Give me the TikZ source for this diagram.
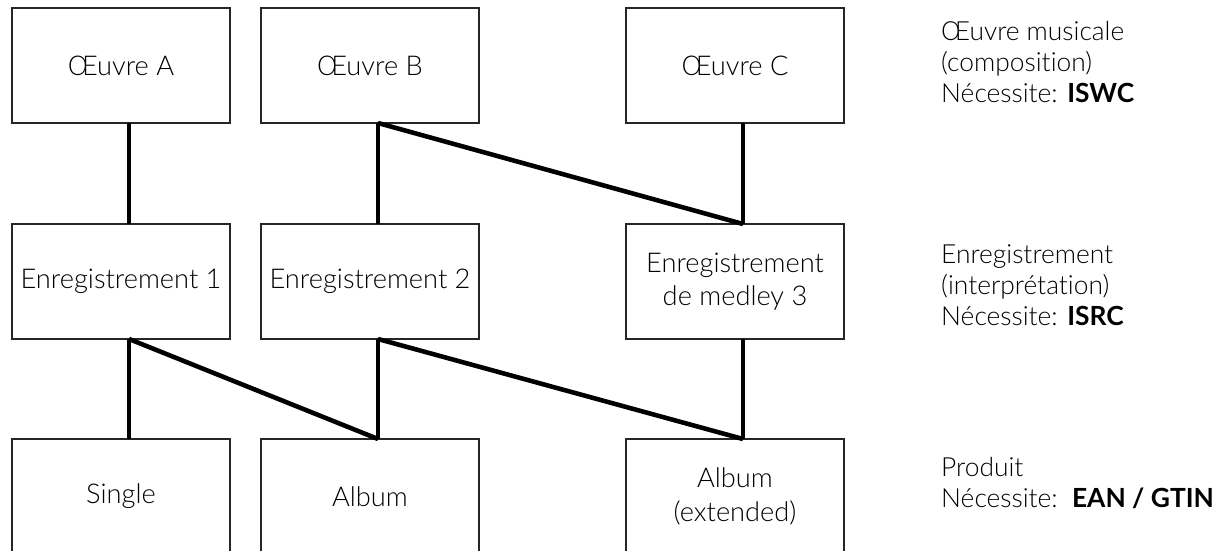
\documentclass[tikz,border=0pt]{standalone}
\usepackage{fontspec}
\setmainfont{Lato}[UprightFont={* Light},BoldFont={* Bold},Ligatures=NoCommon]
\usetikzlibrary{positioning}

\begin{document}
\begin{tikzpicture}[
    x=0.2mm, y=-0.2mm,
    node distance=2.02cm and 0.62cm,
    box/.style={draw=black!85, line width=0.9pt, minimum width=4.36cm, minimum height=2.3cm, align=center, inner sep=0pt, outer sep=0pt, font=\fontsize{15.5}{19}\selectfont},
    link/.style={line width=2.6pt, draw=black},
    legend/.style={align=left, font=\fontsize{15}{17.5}\selectfont}
]
    \useasboundingbox (0,0) rectangle (1230,551);
    \clip (0,0) rectangle (1230,551);

    % oeuvres
    \node[box] (oeuvreA) at (121,65.5) {Œuvre A};
    \node[box, right=of oeuvreA] (oeuvreB) {Œuvre B};
    \node[box, right=2.94cm of oeuvreB] (oeuvreC) {Œuvre C};

    % enregistrements
    \node[box, below=of oeuvreA] (enrA) {Enregistrement 1};
    \node[box, below=of oeuvreB] (enrB) {Enregistrement 2};
    \node[box, below=of oeuvreC] (medley) {Enregistrement\\de medley 3};

    % produits
    \node[box, below=2cm of enrA] (single) {Single};
    \node[box, below=2cm of enrB] (album) {Album};
    \node[box, below=2cm of medley] (albumExt) {Album\\(extended)};

    \foreach \a/\b in {oeuvreA/enrA, oeuvreB/enrB, oeuvreB/medley, oeuvreC/medley,
                       enrA/single, enrA/album, enrB/album, enrB/albumExt, medley/albumExt}
        \draw[link] ([xshift=1.6mm]\a.south) -- ([xshift=1.6mm]\b.north);

    % legende
    \node[legend, right=1.82cm of oeuvreC, yshift=0.7mm] (legOeuvre) {Œuvre musicale\\(composition)\\Nécessite: \textbf{ISWC}};
    \node[legend, right=1.82cm of medley, yshift=-0.7mm] (legEnr) {Enregistrement\\(interprétation)\\Nécessite: \textbf{ISRC}};
    \node[legend, right=1.82cm of albumExt, yshift=2.7mm] (legProduit) {Produit\\Nécessite:\ \ \textbf{EAN / GTIN}};
\end{tikzpicture}
\end{document}
